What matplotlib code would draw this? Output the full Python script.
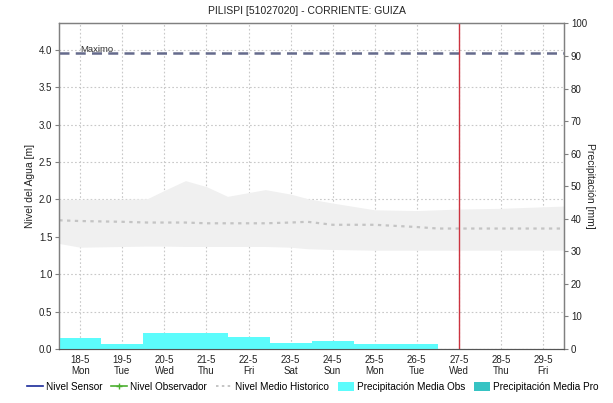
import matplotlib
matplotlib.use("Agg")
import matplotlib.pyplot as plt
from matplotlib.lines import Line2D
from matplotlib.patches import Patch

plt.rcParams['font.family'] = ['Liberation Sans', 'DejaVu Sans']

title = "PILISPI [51027020] - CORRIENTE: GUIZA"

# Day positions (day of May) and tick labels
day_ticks = [18, 19, 20, 21, 22, 23, 24, 25, 26, 27, 28, 29]
day_labels = ["18-5\nMon", "19-5\nTue", "20-5\nWed", "21-5\nThu", "22-5\nFri", "23-5\nSat",
              "24-5\nSun", "25-5\nMon", "26-5\nTue", "27-5\nWed", "28-5\nThu", "29-5\nFri"]

# Observed mean precipitation per day [mm]
precip_days = [18, 19, 20, 21, 22, 23, 24, 25, 26]
precip_obs = [3.3, 1.45, 4.8, 5.0, 3.8, 1.75, 2.35, 1.55, 1.55]

# Historical level band and mean [m]
hist_x = [17.5, 18, 19, 19.6, 20, 20.5, 21, 21.5, 22, 22.4, 23, 23.4, 24, 25, 26, 26.5, 27, 28, 29, 29.5]
hist_upper = [2.00, 2.00, 2.00, 2.01, 2.12, 2.25, 2.17, 2.04, 2.09, 2.13, 2.07, 2.01, 1.95, 1.86,
              1.85, 1.86, 1.87, 1.88, 1.90, 1.91]
hist_lower = [1.41, 1.36, 1.37, 1.375, 1.375, 1.37, 1.37, 1.37, 1.37, 1.37, 1.36, 1.34, 1.33, 1.32,
              1.32, 1.32, 1.32, 1.32, 1.32, 1.32]
hist_mean = [1.72, 1.71, 1.70, 1.69, 1.69, 1.69, 1.68, 1.68, 1.68, 1.68, 1.69, 1.70, 1.66, 1.66,
             1.63, 1.61, 1.61, 1.61, 1.61, 1.61]

maximo = 3.96
now_day = 27.0

fig = plt.figure(figsize=(6.13, 4.03), dpi=100)
ax = fig.add_axes([0.0967, 0.134, 0.8233, 0.8077])
ax2 = ax.twinx()

ax.set_xlim(17.5, 29.5)
ax.set_ylim(0, 4.35)
ax2.set_ylim(0, 100)

# grid
ax.set_yticks([0, 0.5, 1.0, 1.5, 2.0, 2.5, 3.0, 3.5, 4.0])
ax.set_yticklabels(["0.0", "0.5", "1.0", "1.5", "2.0", "2.5", "3.0", "3.5", "4.0"])
ax.set_xticks(day_ticks)
ax.set_xticklabels(day_labels)
ax.grid(True, color='#c8c8c8', linestyle=(0, (1.5, 2)), linewidth=0.8)
ax.set_axisbelow(True)

# historical band & mean
ax.fill_between(hist_x, hist_lower, hist_upper, color='#f0f0f0', linewidth=0, zorder=1)
ax.plot(hist_x, hist_mean, color='#c4c4c4', linestyle=(0, (1.5, 2)), linewidth=1.6, zorder=2)

# maximum line
ax.axhline(maximo, color='#656b8c', linestyle=(0, (4, 2.5)), linewidth=1.8, zorder=3)
ax.text(18.0, maximo - 0.02, "Maximo", fontsize=6.8, color='#333333', va='bottom', ha='left')

# precipitation bars
ax2.bar(precip_days, precip_obs, width=1.0, color='#5cfcfc', linewidth=0, zorder=2)
ax2.set_yticks(range(0, 101, 10))

# now line
ax.axvline(now_day, color='#cc3440', linewidth=1.0, zorder=4)

# styling
for a in (ax, ax2):
    for s in ('left', 'right', 'top'):
        a.spines[s].set_color('#808080')
        a.spines[s].set_linewidth(0.9)
    a.spines['bottom'].set_color('#555555')
    a.spines['bottom'].set_linestyle((0, (1, 1)))
ax.tick_params(axis='y', labelsize=7, length=3, color='#808080', pad=2, labelcolor='#222222')
ax2.tick_params(axis='y', labelsize=7, length=3, color='#808080', pad=2, labelcolor='#222222')
ax.tick_params(axis='x', labelsize=7, length=0, pad=4, labelcolor='#222222')

ax.set_ylabel("Nivel del Agua [m]", fontsize=7.5, color='#222222', labelpad=3)
ax2.set_ylabel("Precipitación [mm]", fontsize=7.5, color='#222222', rotation=-90, labelpad=6)
fig.text(0.5, 0.972, title, ha='center', va='center', fontsize=7.5, color='#222222')

handles = [
    Line2D([0], [0], color='#1a2a9a', linewidth=1.2),
    Line2D([0], [0], color='#4caf30', linewidth=1.2, marker='+', markersize=4),
    Line2D([0], [0], color='#bbbbbb', linewidth=1.2, linestyle=(0, (1.5, 2))),
    Patch(facecolor='#5cfcfc', edgecolor='none'),
    Patch(facecolor='#36c3c3', edgecolor='none'),
]
labels = ["Nivel Sensor", "Nivel Observador", "Nivel Medio Historico",
          "Precipitación Media Obs", "Precipitación Media Pro"]
fig.legend(handles, labels, loc='center', bbox_to_anchor=(0.51, 0.04), ncol=5, frameon=False,
           fontsize=7.2, handlelength=1.6, handleheight=1.0, handletextpad=0.3, columnspacing=0.9)

fig.savefig("out.png", dpi=100, facecolor='white')
